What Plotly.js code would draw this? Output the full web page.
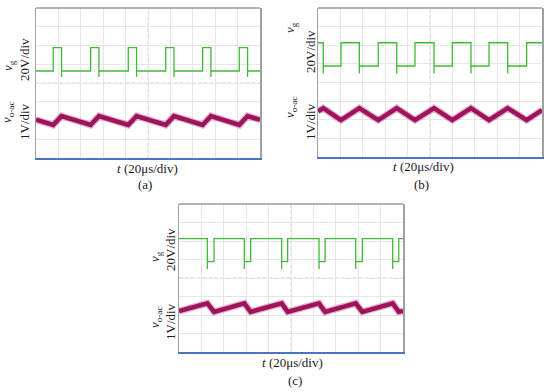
<!DOCTYPE html>
<html>
<head>
<meta charset="utf-8">
<script src="https://cdn.plot.ly/plotly-3.0.1.min.js"></script>
<style>html,body{margin:0;padding:0;background:#fff;}#chart{width:550px;height:392px;}</style>
</head>
<body>
<div id="chart"></div>
<script>
// ---- Panel (a): short gate pulses (t in µs, vg in V, vo-ac in V) ----
const aVgT = [0, 15.4, 15.4, 22.8, 22.8, 22.8, 48.8, 48.8, 56.2, 56.2, 56.2, 82.4, 82.4, 89.8, 89.8, 89.8, 115.8, 115.8, 123.2, 123.2, 123.2, 148.8, 148.8, 156.2, 156.2, 156.2, 181.5, 181.5, 188.9, 188.9, 188.9, 200];
const aVgV = [0, 0, 25, 25, -6.5, 0, 0, 25, 25, -6.5, 0, 0, 25, 25, -6.5, 0, 0, 25, 25, -6.5, 0, 0, 25, 25, -6.5, 0, 0, 25, 25, -6.5, 0, 0];
const aVoT = [0, 15.4, 22.8, 48.8, 56.2, 82.4, 89.8, 115.8, 123.2, 148.8, 156.2, 181.5, 188.9, 200];
const aVoV = [0.04, -0.24, 0.24, -0.24, 0.24, -0.24, 0.24, -0.24, 0.24, -0.24, 0.24, -0.24, 0.24, 0.04];

// ---- Panel (b): ~50% duty ----
const bVgT = [0, 4.7, 4.7, 4.7, 20.5, 20.5, 36.9, 36.9, 36.9, 53.8, 53.8, 70.3, 70.3, 70.3, 86.6, 86.6, 103.6, 103.6, 103.6, 119.9, 119.9, 136.6, 136.6, 136.6, 152.7, 152.7, 169.4, 169.4, 169.4, 186.3, 186.3, 200];
const bVgV = [25, 25, -8, 0, 0, 25, 25, -8, 0, 0, 25, 25, -8, 0, 0, 25, 25, -8, 0, 0, 25, 25, -8, 0, 0, 25, 25, -8, 0, 0, 25, 25];
const bVoT = [0, 4.7, 20.5, 36.9, 53.8, 70.3, 86.6, 103.6, 119.9, 136.6, 152.7, 169.4, 186.3, 200];
const bVoV = [0.15, 0.32, -0.32, 0.32, -0.32, 0.32, -0.32, 0.32, -0.32, 0.32, -0.32, 0.32, -0.32, 0.22];

// ---- Panel (c): long on-time, short off pulses ----
const cVgT = [0, 25.3, 25.3, 25.3, 31.3, 31.3, 58.3, 58.3, 58.3, 64, 64, 91.7, 91.7, 91.7, 97, 97, 125, 125, 125, 130.4, 130.4, 157.8, 157.8, 157.8, 163.7, 163.7, 190.8, 190.8, 190.8, 196.2, 196.2, 200];
const cVgV = [25, 25, -8, 0, 0, 25, 25, -8, 0, 0, 25, 25, -8, 0, 0, 25, 25, -8, 0, 0, 25, 25, -8, 0, 0, 25, 25, -8, 0, 0, 25, 25];
const cVoT = [0, 25.3, 31.3, 58.3, 64, 91.7, 97, 125, 130.4, 157.8, 163.7, 190.8, 196.2, 200];
const cVoV = [-0.19, 0.23, -0.23, 0.23, -0.23, 0.23, -0.23, 0.23, -0.23, 0.23, -0.23, 0.23, -0.23, -0.18];

// trigger markers at top of screen (µs)
const trigT = [100, 108];
const trigColors = ['#f7c27a', '#f08c00'];

// labels
const vgLabel = '<i>v</i><sub>g</sub>';
const vgScale = '20V/div';
const voLabel = '<i>v</i><sub>o-ac</sub>';
const voScale = '1V/div';
const tLabel = '<i>t</i> (20μs/div)';
const panelLabels = ['(a)', '(b)', '(c)'];

const GREEN = '#3fba36';
const MAG = '#a0125c';
const FONT = {family: 'Liberation Serif', size: 13, color: '#1a1a1a'};

// panel geometry (paper fractions)
const panels = [
  {x: [36/550, 260/550], y: [1-158/392, 1-8/392], vgR: [-92.8, 67.2], voR: [-2, 6]},
  {x: [318/550, 542/550], y: [1-157/392, 1-8/392], vgR: [-97.7, 62.3], voR: [-2.3, 5.7]},
  {x: [179/550, 403/550], y: [1-352/392, 1-204/392], vgR: [-97.6, 62.4], voR: [-2.4, 5.6]}
];
const series = [
  [aVgT, aVgV, aVoT, aVoV],
  [bVgT, bVgV, bVoT, bVoV],
  [cVgT, cVgV, cVoT, cVoV]
];

const data = [];
const layout = {
  width: 550, height: 392,
  margin: {l: 0, r: 0, t: 0, b: 0},
  paper_bgcolor: '#fff', plot_bgcolor: '#fff',
  showlegend: false,
  shapes: [], annotations: []
};

panels.forEach((p, i) => {
  const xn = i === 0 ? '' : String(i + 1);
  const baseN = 3 * i + 1, vgN = 3 * i + 2, voN = 3 * i + 3;
  const yb = baseN === 1 ? 'y' : 'y' + baseN;
  const xr = 'x' + xn;
  layout['xaxis' + xn] = {
    domain: p.x, anchor: yb, range: [0, 200], dtick: 20, tick0: 0,
    showgrid: true, gridcolor: '#e6e6e6', gridwidth: 1,
    showticklabels: false, ticks: '', zeroline: false,
    showline: true, linecolor: '#4f72c6', linewidth: 2, fixedrange: true
  };
  layout['yaxis' + (baseN === 1 ? '' : baseN)] = {
    domain: p.y, anchor: xr, range: [-4, 4], dtick: 1, tick0: 0,
    showgrid: true, gridcolor: '#e6e6e6', gridwidth: 1,
    showticklabels: false, ticks: '', zeroline: false,
    showline: true, linecolor: '#a0a0a0', linewidth: 1.5, mirror: true, fixedrange: true
  };
  layout['yaxis' + vgN] = {overlaying: yb, anchor: xr, range: p.vgR, visible: false, fixedrange: true};
  layout['yaxis' + voN] = {overlaying: yb, anchor: xr, range: p.voR, visible: false, fixedrange: true};

  const s = series[i];
  // fuzzy noise band under the output ripple trace
  data.push({x: s[2], y: s[3], xaxis: xr, yaxis: 'y' + voN, type: 'scatter', mode: 'lines',
    line: {color: 'rgba(170,40,110,0.35)', width: 7}, hoverinfo: 'skip'});
  data.push({x: s[2], y: s[3], xaxis: xr, yaxis: 'y' + voN, type: 'scatter', mode: 'lines',
    line: {color: MAG, width: 4.5}, hoverinfo: 'skip'});
  data.push({x: s[0], y: s[1], xaxis: xr, yaxis: 'y' + vgN, type: 'scatter', mode: 'lines',
    line: {color: GREEN, width: 1.3}, hoverinfo: 'skip'});
  data.push({x: trigT, y: [4.12, 4.12], xaxis: xr, yaxis: yb, type: 'scatter', mode: 'markers',
    cliponaxis: false, marker: {color: trigColors, size: 5, symbol: 'circle'}, hoverinfo: 'skip'});

  // top border + centre dashed cross
  layout.shapes.push({type: 'line', xref: xr + ' domain', yref: yb + ' domain', x0: 0, x1: 1, y0: 1, y1: 1,
    line: {color: '#9a9a9a', width: 1.5}});
  layout.shapes.push({type: 'line', xref: xr + ' domain', yref: yb + ' domain', x0: 0.5, x1: 0.5, y0: 0, y1: 1,
    line: {color: '#cfcfcf', width: 1, dash: 'dot'}, layer: 'below'});
  layout.shapes.push({type: 'line', xref: xr + ' domain', yref: yb + ' domain', x0: 0, x1: 1, y0: 0.5, y1: 0.5,
    line: {color: '#cfcfcf', width: 1, dash: 'dot'}, layer: 'below'});
});

// text labels (paper coordinates from pixel positions)
function ann(text, px, py, angle) {
  layout.annotations.push({text: text, xref: 'paper', yref: 'paper', x: px / 550, y: 1 - py / 392,
    xanchor: 'center', yanchor: 'middle', showarrow: false, textangle: angle || 0, font: FONT});
}
// (a)
ann(vgLabel, 8, 66, -90); ann(vgScale, 24, 60, -90);
ann(voLabel, 8, 113, -90); ann(voScale, 24, 122, -90);
ann(tLabel, 147, 168); ann(panelLabels[0], 145, 184);
// (b)
ann(vgLabel, 291, 28, -90); ann(vgScale, 310, 52, -90);
ann(voLabel, 291, 108, -90); ann(voScale, 310, 122, -90);
ann(tLabel, 423, 166); ann(panelLabels[1], 422, 184);
// (c)
ann(vgLabel, 155, 257, -90); ann(vgScale, 170, 250, -90);
ann(voLabel, 155, 318, -90); ann(voScale, 170, 322, -90);
ann(tLabel, 292, 362); ann(panelLabels[2], 295, 380);

Plotly.newPlot('chart', data, layout, {staticPlot: true, displayModeBar: false});
</script>
</body>
</html>
